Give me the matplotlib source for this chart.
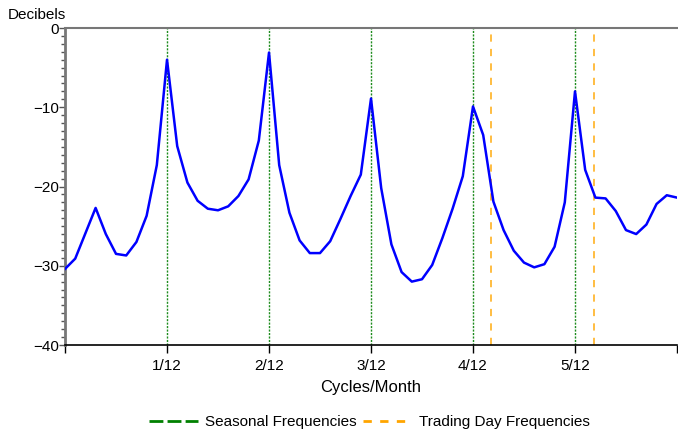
import numpy as np
import matplotlib
matplotlib.use('Agg')
import matplotlib.pyplot as plt
from matplotlib.lines import Line2D
from matplotlib.ticker import MultipleLocator

plt.rcParams['font.family'] = ['Liberation Sans', 'DejaVu Sans']

# spectrum values (dB), one every 1/120 cycles/month
freq = np.arange(61) / 120.0
spec = [-30.4, -29.1, -25.9, -22.7, -26.0, -28.5, -28.7, -27.0, -23.7, -17.3,
        -4.0, -14.9, -19.5, -21.8, -22.8, -23.0, -22.5, -21.2, -19.1, -14.2,
        -3.1, -17.3, -23.3, -26.8, -28.4, -28.4, -26.9, -24.1, -21.2, -18.5,
        -8.9, -20.2, -27.3, -30.8, -32.0, -31.7, -29.9, -26.5, -22.8, -18.7,
        -9.9, -13.5, -21.9, -25.5, -28.1, -29.6, -30.2, -29.8, -27.6, -22.0,
        -8.0, -17.9, -21.4, -21.5, -23.1, -25.5, -26.0, -24.8, -22.2, -21.1,
        -21.4]

seasonal = [1/12, 2/12, 3/12, 4/12, 5/12]
trading = [0.348, 0.432]
xtick_pos = [0, 1/12, 2/12, 3/12, 4/12, 5/12, 6/12]
xtick_lab = ['', '1/12', '2/12', '3/12', '4/12', '5/12', '']

fig = plt.figure(figsize=(6.78, 4.33), dpi=100)
ax = fig.add_axes([0.0959, 0.2032, 0.9026, 0.7321])

for f in seasonal:
    ax.axvline(f, color='#1E8C1E', lw=1.0, ls=(0, (1.5, 1.0)), zorder=1)
for f in trading:
    ax.axvline(f, color='#FFB733', lw=1.3, ls=(0, (4, 4)), zorder=1)

ax.plot(freq, spec, color='#0000FF', lw=1.8, zorder=3)

ax.set_xlim(0, 0.5)
ax.set_ylim(-40, 0)
ax.set_xticks(xtick_pos)
ax.set_xticklabels(xtick_lab, fontsize=11)
ax.set_yticks([0, -10, -20, -30, -40])
ax.set_yticklabels(['0', '\u221210', '\u221220', '\u221230', '\u221240'], fontsize=11)
ax.yaxis.set_minor_locator(MultipleLocator(1))
ax.tick_params(axis='y', which='major', length=4, width=1, color='#555555', pad=0.5)
ax.tick_params(axis='y', which='minor', length=3, width=1, color='#555555')
ax.tick_params(axis='x', which='major', length=6, width=1, color='black', pad=4)

ax.spines['right'].set_visible(False)
ax.spines['top'].set_color('#777777')
ax.spines['top'].set_linewidth(1.5)
ax.spines['left'].set_color('#777777')
ax.spines['left'].set_linewidth(2)
ax.spines['bottom'].set_color('black')
ax.spines['bottom'].set_linewidth(1.2)

ax.set_xlabel('Cycles/Month', fontsize=12, labelpad=5)
fig.text(0.012, 0.965, 'Decibels', fontsize=11, ha='left', va='center')

handles = [Line2D([], [], color='#008000', lw=2, ls=(0, (5, 1.5))),
           Line2D([], [], color='#FFA500', lw=2, ls=(0, (3, 3)))]
fig.legend(handles, ['Seasonal Frequencies', 'Trading Day Frequencies'],
           loc='center', bbox_to_anchor=(0.545, 0.025), ncol=2, frameon=False,
           fontsize=11, handlelength=3.2, handletextpad=0.5, columnspacing=0.4)

fig.savefig('out.png', dpi=100)
